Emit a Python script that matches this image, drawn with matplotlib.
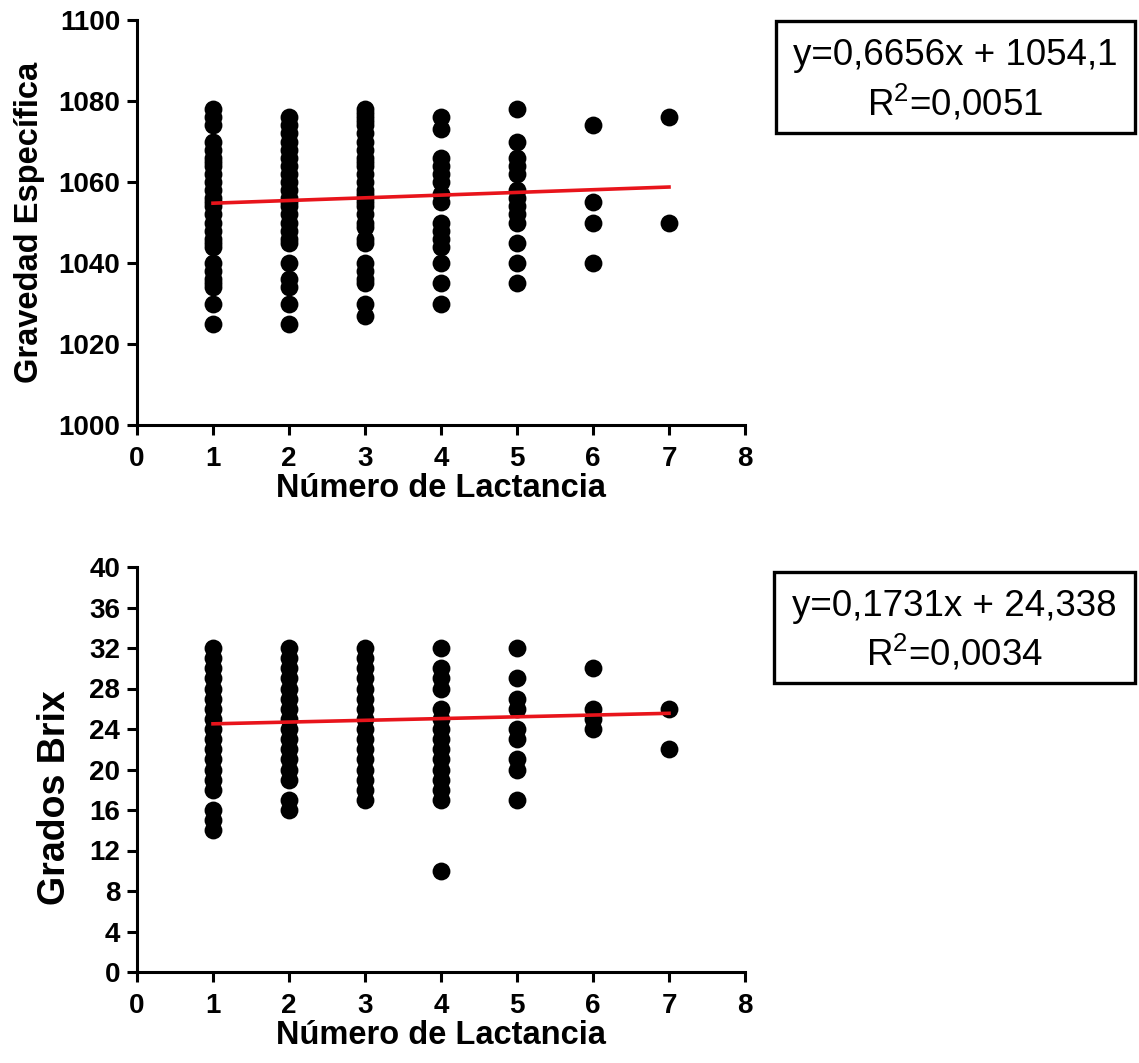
import numpy as np
import matplotlib
matplotlib.use('Agg')
import matplotlib.pyplot as plt
from matplotlib.patches import Rectangle

plt.rcParams.update({
    'font.family': 'Liberation Sans',
    'mathtext.default': 'regular',
    'axes.linewidth': 2.2,
})

# ── Data ──
lact_levels = [1, 2, 3, 4, 5, 6, 7]

grav = {
    1: [1078, 1076, 1074, 1070, 1068, 1066, 1065, 1064, 1062, 1060, 1058, 1056, 1055,
        1054, 1052, 1050, 1048, 1046, 1045, 1044, 1040, 1038, 1036, 1035, 1034, 1030, 1025],
    2: [1076, 1074, 1072, 1070, 1068, 1066, 1064, 1062, 1060, 1058, 1056, 1055, 1054,
        1052, 1050, 1048, 1046, 1045, 1040, 1036, 1034, 1030, 1025],
    3: [1078, 1077, 1076, 1075, 1074, 1072, 1070, 1068, 1066, 1065, 1064, 1062, 1060,
        1058, 1057, 1056, 1055, 1054, 1052, 1050, 1049, 1046, 1045, 1040, 1038, 1036,
        1035, 1030, 1027],
    4: [1076, 1073, 1066, 1064, 1062, 1060, 1057, 1055, 1050, 1048, 1046, 1044, 1040, 1035, 1030],
    5: [1078, 1070, 1066, 1064, 1062, 1058, 1056, 1054, 1052, 1050, 1045, 1040, 1035],
    6: [1074, 1055, 1050, 1040],
    7: [1076, 1050],
}

brix = {
    1: [32, 31, 30, 29, 28, 27, 26, 25, 24, 23, 22, 21, 20, 19, 18, 16, 15, 14],
    2: [32, 31, 30, 29, 28, 27, 26, 25, 24, 23, 22, 21, 20, 19, 17, 16],
    3: [32, 31, 30, 29, 28, 27, 26, 25, 24, 23, 22, 21, 20, 19, 18, 17],
    4: [32, 30, 29, 28, 26, 25, 24, 23, 22, 21, 20, 19, 18, 17, 10],
    5: [32, 29, 27, 26, 24, 23, 21, 20, 17],
    6: [30, 26, 25, 24],
    7: [26, 22],
}

# regression results printed on the chart
grav_slope, grav_icpt = 0.6656, 1054.1
brix_slope, brix_icpt = 0.1731, 24.338
grav_eq = ['y=0,6656x + 1054,1', 'R$^{2}$=0,0051']
brix_eq = ['y=0,1731x + 24,338', 'R$^{2}$=0,0034']

W, H = 1139, 1063
fig = plt.figure(figsize=(W / 100, H / 100), dpi=100)

ax1 = fig.add_axes([137 / W, 1 - 425 / H, 608 / W, 405 / H])
ax2 = fig.add_axes([137 / W, 1 - 972 / H, 608 / W, 405 / H])


def draw(ax, data, slope, icpt, ylim, yticks, ylabel, ylab_size, ylab_xy):
    for k in lact_levels:
        vals = data[k]
        ax.scatter([k] * len(vals), vals, s=165, color='black', zorder=3,
                   linewidths=0, clip_on=False)
    xl = np.array([lact_levels[0], lact_levels[-1]])
    ax.plot(xl, slope * xl + icpt, color='#e8141b', linewidth=2.6, zorder=4)
    ax.set_xlim(0, 8)
    ax.set_ylim(*ylim)
    ax.set_xticks(range(0, 9))
    ax.set_yticks(yticks)
    ax.spines['top'].set_visible(False)
    ax.spines['right'].set_visible(False)
    ax.tick_params(width=2.2, length=7, labelsize=20)
    ax.tick_params(axis='x', pad=8)
    ax.tick_params(axis='y', pad=5)
    for lab in ax.get_xticklabels() + ax.get_yticklabels():
        lab.set_fontweight('bold')
    ax.set_xlabel('Número de Lactancia', fontsize=23.5, fontweight='bold')
    ax.xaxis.set_label_coords(0.5, -0.118)
    ax.set_ylabel(ylabel, fontsize=ylab_size, fontweight='bold')
    ax.yaxis.set_label_coords(*ylab_xy)


draw(ax1, grav, grav_slope, grav_icpt, (1000, 1100), range(1000, 1101, 20),
     'Gravedad Específica', 23.5, (-0.152, 0.5))
draw(ax2, brix, brix_slope, brix_icpt, (0, 40), range(0, 41, 4),
     'Grados Brix', 27, (-0.106, 0.43))


def eq_box(lines, x0, y0, x1, y1):
    fig.add_artist(Rectangle((x0 / W, 1 - y1 / H), (x1 - x0) / W, (y1 - y0) / H,
                             transform=fig.transFigure, facecolor='white',
                             edgecolor='black', linewidth=2.4))
    xc = (x0 + x1) / 2
    fig.text(xc / W, 1 - (y0 + 44) / H, lines[0], ha='center', va='baseline',
             fontsize=26.5)
    fig.text(xc / W, 1 - (y0 + 94) / H, lines[1], ha='center', va='baseline',
             fontsize=26.5)


eq_box(grav_eq, 776, 21, 1135, 133)
eq_box(brix_eq, 774, 572, 1135, 683)

fig.savefig('out.png', dpi=100, facecolor='white')
